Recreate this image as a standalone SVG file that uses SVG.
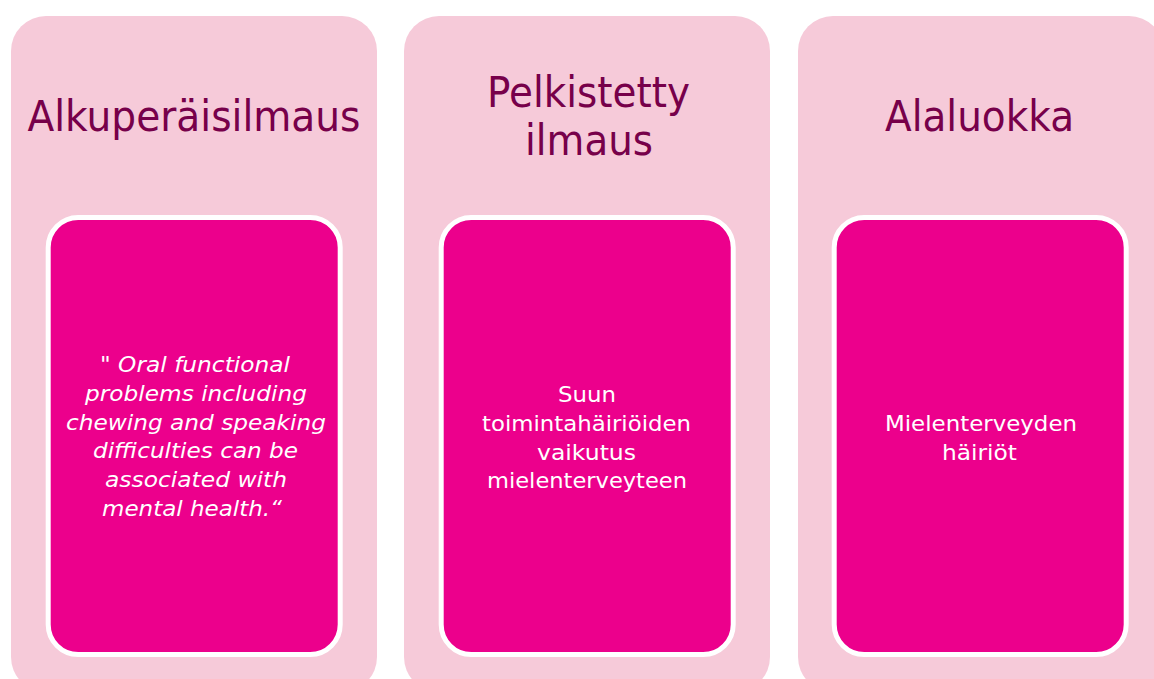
<svg xmlns="http://www.w3.org/2000/svg" width="1154" height="679" viewBox="0 0 1154 679">
<style>
.outer{fill:#F6CAD9;}
.inner{fill:#EC008C;stroke:#FFFFFF;stroke-width:5;}
.title{font-family:"DejaVu Sans","Liberation Sans",sans-serif;font-size:42px;fill:#77004A;text-anchor:middle;}
.body{font-family:"DejaVu Sans","Liberation Sans",sans-serif;font-size:22px;fill:#FFFFFF;text-anchor:middle;}
.it{font-style:italic;}
</style>
<rect width="1154" height="679" fill="#FFFFFF"/>
<g id="col1">
<rect class="outer" x="11" y="16" width="366" height="676" rx="35" ry="35"/>
<text class="title" x="194" y="131" textLength="333" lengthAdjust="spacingAndGlyphs">Alkuperäisilmaus</text>
<rect class="inner" x="48.2" y="217.5" width="292" height="437" rx="30" ry="30"/>
<text class="body it" x="195" y="372" textLength="190" lengthAdjust="spacingAndGlyphs">" Oral functional</text>
<text class="body it" x="196" y="401" textLength="222" lengthAdjust="spacingAndGlyphs">problems including</text>
<text class="body it" x="196" y="430" textLength="260" lengthAdjust="spacingAndGlyphs">chewing and speaking</text>
<text class="body it" x="195.5" y="458" textLength="205" lengthAdjust="spacingAndGlyphs">difficulties can be</text>
<text class="body it" x="196" y="487" textLength="182" lengthAdjust="spacingAndGlyphs">associated with</text>
<text class="body it" x="192" y="516" textLength="180" lengthAdjust="spacingAndGlyphs">mental health.“</text>
</g>
<g id="col2">
<rect class="outer" x="404" y="16" width="366" height="676" rx="35" ry="35"/>
<text class="title" x="588.5" y="107" textLength="203" lengthAdjust="spacingAndGlyphs">Pelkistetty</text>
<text class="title" x="589" y="155" textLength="128" lengthAdjust="spacingAndGlyphs">ilmaus</text>
<rect class="inner" x="441.2" y="217.5" width="292" height="437" rx="30" ry="30"/>
<text class="body" x="587" y="402" textLength="58" lengthAdjust="spacingAndGlyphs">Suun</text>
<text class="body" x="586.5" y="431" textLength="209" lengthAdjust="spacingAndGlyphs">toimintahäiriöiden</text>
<text class="body" x="586.5" y="460" textLength="99" lengthAdjust="spacingAndGlyphs">vaikutus</text>
<text class="body" x="587" y="488" textLength="200" lengthAdjust="spacingAndGlyphs">mielenterveyteen</text>
</g>
<g id="col3">
<rect class="outer" x="798" y="16" width="366" height="676" rx="35" ry="35"/>
<text class="title" x="979.5" y="131" textLength="189" lengthAdjust="spacingAndGlyphs">Alaluokka</text>
<rect class="inner" x="834.2" y="217.5" width="292" height="437" rx="30" ry="30"/>
<text class="body" x="981" y="431" textLength="192" lengthAdjust="spacingAndGlyphs">Mielenterveyden</text>
<text class="body" x="979.5" y="460" textLength="75" lengthAdjust="spacingAndGlyphs">häiriöt</text>
</g>
<g id="connectors"></g>
</svg>
